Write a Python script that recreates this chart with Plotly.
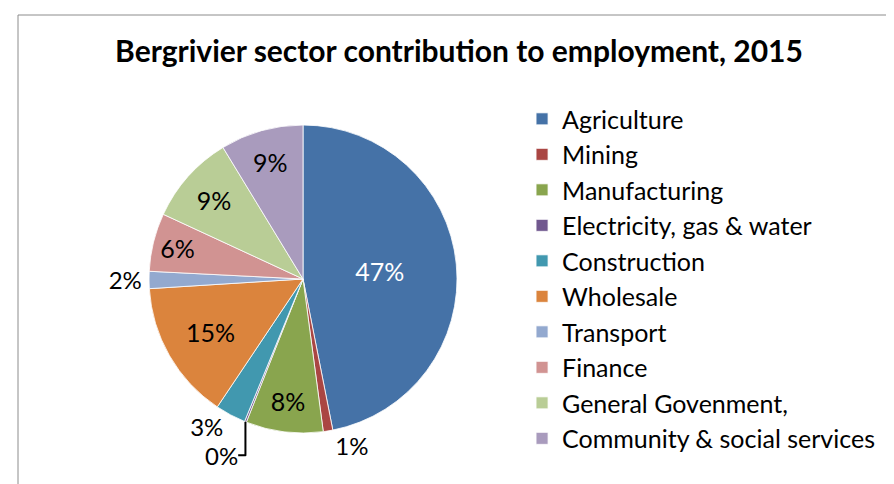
import plotly.graph_objects as go

sectors = ["Agriculture", "Mining", "Manufacturing", "Electricity, gas & water",
           "Construction", "Wholesale", "Transport", "Finance",
           "General Govenment,", "Community & social services"]
shares = [46.9, 1.0, 8.1, 0.2, 3.2, 14.6, 1.8, 6.1, 9.4, 8.7]
colors = ["#4572A7", "#AA4643", "#89A54E", "#71588F", "#4198AF",
          "#DB843D", "#93A9CF", "#D19392", "#B9CD96", "#A99BBD"]
positions = ["inside", "outside", "inside", "outside", "outside",
             "inside", "outside", "inside", "inside", "inside"]
text_colors = ["white"] + ["black"] * 9

FONT = "Lato"

fig = go.Figure(go.Pie(
    labels=sectors, values=shares, sort=False, direction="clockwise", rotation=0,
    marker=dict(colors=colors, line=dict(color="white", width=0.8)),
    texttemplate="%{percent:.0%}", textposition=positions,
    insidetextorientation="horizontal",
    insidetextfont=dict(family=FONT, size=25, color=text_colors),
    outsidetextfont=dict(family=FONT, size=24, color="black"),
    hoverinfo="label+percent",
    domain=dict(x=[0.1667 - 8/894, 0.5112 - 8/894], y=[0.1054 + 8/484, 0.7417 + 8/484]),
))

fig.update_layout(
    width=894, height=484,
    margin=dict(l=0, r=0, t=0, b=0),
    paper_bgcolor="white",
    title=dict(text="<b>Bergrivier sector contribution to employment, 2015</b>",
               x=0.5045, xanchor="center", y=0.911, yanchor="middle",
               font=dict(family=FONT, size=30, color="black")),
    legend=dict(x=0.575, y=0.818, xanchor="left", yanchor="top",
                font=dict(family=FONT, size=25, color="black"),
                bgcolor="rgba(0,0,0,0)"),
    shapes=[dict(type="rect", xref="paper", yref="paper",
                 x0=10/894, x1=1.02, y0=-0.02, y1=1-7/484,
                 line=dict(color="#8C8C8C", width=1))],
)

fig.write_html("out.html")
